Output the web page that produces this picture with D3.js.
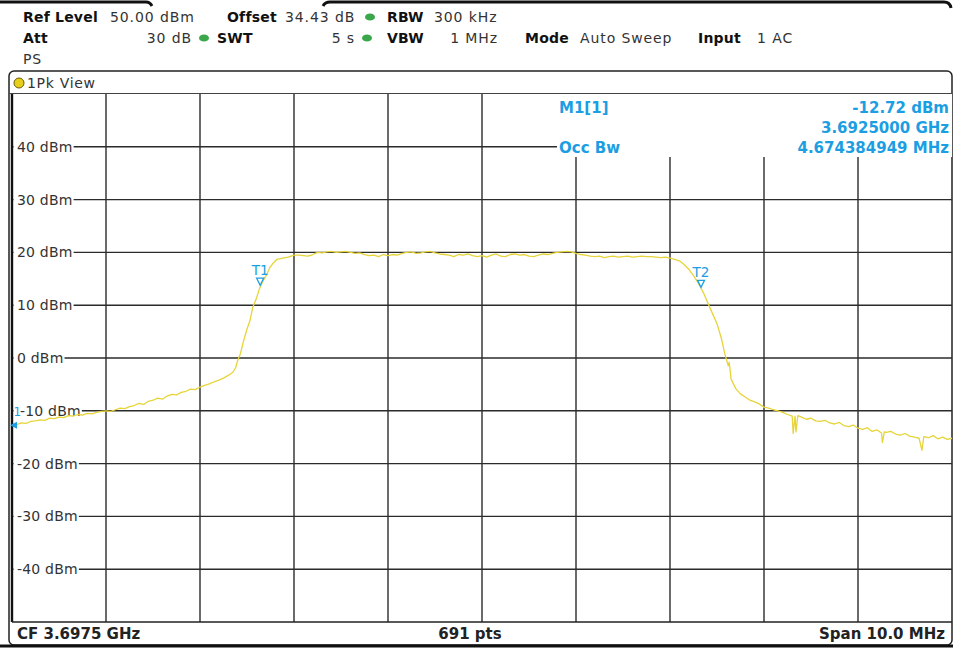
<!DOCTYPE html>
<html>
<head>
<meta charset="utf-8">
<script src="https://cdn.jsdelivr.net/npm/d3@7"></script>
<style>
  html, body { margin: 0; padding: 0; background: #fff; }
  svg { display: block; font-family: "DejaVu Sans", Verdana, sans-serif; }
</style>
</head>
<body>
<svg id="chart" width="953" height="649"></svg>
<script>
// ======================================================================
// DATA
// ======================================================================
const centerGHz = 3.6975;
const spanMHz = 10.0;
const sweepPoints = 691;
const levelTicks = [40, 30, 20, 10, 0, -10, -20, -30, -40];
const levelRange = [-50, 50];

// [offset from start frequency in MHz, level in dBm]
const trace = [
  [0.00, -12.7], [0.05, -12.6], [0.10, -12.3], [0.15, -12.4], [0.20, -12.0],
  [0.25, -11.9], [0.30, -11.7], [0.35, -11.8], [0.40, -11.4], [0.45, -11.5],
  [0.50, -11.2], [0.55, -11.3], [0.60, -10.9], [0.65, -11.0], [0.70, -10.7],
  [0.75, -10.8], [0.80, -10.5], [0.85, -10.6], [0.90, -10.3], [0.95, -10.1],
  [1.00, -10.0], [1.05, -10.1], [1.10, -9.8], [1.15, -9.5], [1.20, -9.6],
  [1.25, -9.2], [1.30, -9.0], [1.35, -8.6], [1.40, -8.8], [1.45, -8.2],
  [1.50, -8.0], [1.55, -7.6], [1.60, -7.8], [1.65, -7.2], [1.70, -6.9],
  [1.75, -7.0], [1.80, -6.5], [1.85, -6.3], [1.90, -5.9], [1.95, -6.0],
  [2.00, -5.5], [2.05, -5.2], [2.10, -4.9], [2.15, -4.5], [2.20, -4.2],
  [2.25, -3.8], [2.30, -3.3], [2.35, -2.7], [2.38, -1.8], [2.40, -0.5],
  [2.43, 0.8], [2.46, 3.0], [2.50, 5.5], [2.53, 7.0], [2.56, 9.5],
  [2.60, 11.3], [2.63, 13.0], [2.66, 14.2], [2.70, 15.5], [2.74, 17.0],
  [2.78, 18.0], [2.82, 18.7], [2.88, 18.9], [2.94, 19.1], [3.00, 19.5],
  [3.05, 19.5], [3.10, 19.4], [3.15, 19.3], [3.20, 19.6], [3.25, 20.0],
  [3.30, 19.9], [3.35, 20.1], [3.40, 20.2], [3.45, 20.0], [3.50, 20.1],
  [3.55, 20.2], [3.60, 20.0], [3.65, 19.8], [3.70, 19.9], [3.75, 19.6],
  [3.80, 19.4], [3.85, 19.5], [3.90, 19.2], [3.95, 19.6], [4.00, 19.4],
  [4.05, 19.6], [4.10, 19.5], [4.15, 19.8], [4.20, 20.0], [4.25, 20.1],
  [4.30, 19.8], [4.35, 19.9], [4.40, 20.1], [4.45, 20.2], [4.50, 19.9],
  [4.55, 19.7], [4.60, 19.6], [4.65, 19.5], [4.70, 19.2], [4.75, 19.6],
  [4.80, 19.5], [4.85, 19.7], [4.90, 19.4], [4.95, 19.2], [5.00, 19.4],
  [5.05, 19.1], [5.10, 19.5], [5.15, 19.7], [5.20, 19.3], [5.25, 19.2],
  [5.30, 19.6], [5.35, 19.7], [5.40, 19.5], [5.45, 19.6], [5.50, 19.3],
  [5.55, 19.2], [5.60, 19.5], [5.65, 19.7], [5.70, 19.6], [5.75, 19.8],
  [5.80, 20.0], [5.85, 20.1], [5.90, 20.2], [5.95, 20.1], [6.00, 19.8],
  [6.05, 19.6], [6.10, 19.5], [6.15, 19.3], [6.20, 19.2], [6.25, 19.3],
  [6.30, 19.0], [6.35, 19.2], [6.40, 19.3], [6.45, 19.1], [6.50, 19.2],
  [6.55, 19.3], [6.60, 19.1], [6.65, 19.2], [6.70, 19.3], [6.75, 19.2],
  [6.80, 19.2], [6.85, 19.1], [6.90, 19.0], [6.95, 19.1], [7.00, 18.9],
  [7.05, 18.7], [7.10, 18.4], [7.15, 17.7], [7.20, 16.8], [7.25, 15.6],
  [7.30, 14.2], [7.33, 13.2], [7.36, 12.2], [7.40, 10.5], [7.45, 8.5],
  [7.50, 6.5], [7.55, 3.5], [7.58, 1.0], [7.62, -1.5], [7.63, -0.8],
  [7.65, -4.0], [7.70, -5.8], [7.75, -6.8], [7.80, -7.4], [7.85, -8.0],
  [7.90, -8.3], [7.95, -8.7], [8.00, -9.3], [8.05, -9.5], [8.10, -9.8],
  [8.15, -10.0], [8.20, -10.3], [8.25, -10.7], [8.30, -11.0], [8.31, -14.3],
  [8.33, -11.0], [8.34, -14.0], [8.36, -10.9], [8.40, -11.2], [8.45, -11.6],
  [8.50, -11.4], [8.55, -11.9], [8.60, -12.0], [8.65, -11.8], [8.70, -12.3],
  [8.75, -12.5], [8.80, -12.2], [8.85, -12.8], [8.90, -13.0], [8.95, -12.7],
  [9.00, -13.3], [9.05, -13.5], [9.10, -13.2], [9.15, -13.9], [9.20, -13.6],
  [9.25, -14.2], [9.26, -16.0], [9.28, -14.0], [9.30, -14.1], [9.35, -13.9],
  [9.40, -14.4], [9.45, -14.6], [9.50, -14.3], [9.55, -14.8], [9.60, -15.0],
  [9.65, -15.2], [9.68, -17.5], [9.70, -14.9], [9.75, -15.1], [9.80, -14.7],
  [9.85, -15.3], [9.90, -15.0], [9.95, -15.4], [10.00, -15.2]
];

// occupied bandwidth markers
const tMarkers = [
  { name: "T1", f: 2.64, level: 13.6 },
  { name: "T2", f: 7.33, level: 13.2 }
];
const m1 = { f: 0, level: -12.72 };

const markerInfo = [
  ["M1[1]", "-12.72 dBm"],
  ["", "3.6925000 GHz"],
  ["Occ Bw", "4.674384949 MHz"]
];

const headerRow1 = [
  { t: "Ref Level", x: 23, bold: true }, { t: "50.00 dBm", x: 110 },
  { t: "Offset", x: 227, bold: true }, { t: "34.43 dB", x: 285 },
  { t: "RBW", x: 387, bold: true }, { t: "300 kHz", x: 434 }
];
const headerRow2 = [
  { t: "Att", x: 23, bold: true }, { t: "30 dB", x: 192, end: true },
  { t: "SWT", x: 217, bold: true }, { t: "5 s", x: 355, end: true },
  { t: "VBW", x: 387, bold: true }, { t: "1 MHz", x: 498, end: true },
  { t: "Mode", x: 525, bold: true }, { t: "Auto Sweep", x: 580 },
  { t: "Input", x: 698, bold: true }, { t: "1 AC", x: 757 }
];
const headerDots = [[370, 17], [204, 38], [367, 38]];

// ======================================================================
// LAYOUT
// ======================================================================
const plot = { left: 12, right: 952, top: 94, bottom: 622 };
const infoBox = { x: 557, y: 94, w: 395, h: 63 };
const blue = "#1c9ee2";
const yellow = "#e6d438";
const gridColor = "#2b2b2b";

const svg = d3.select("#chart");

const x = d3.scaleLinear().domain([0, spanMHz]).range([plot.left, plot.right]);
const y = d3.scaleLinear().domain(levelRange).range([plot.bottom, plot.top]);

// ======================================================================
// HEADER
// ======================================================================
svg.append("path")
  .attr("d", "M0,2 H146 Q150,2 152,6")
  .attr("stroke", "#111").attr("stroke-width", 3).attr("fill", "none");
svg.append("path")
  .attr("d", "M323,6 Q325,2 330,2 H944 Q950,2 951,8")
  .attr("stroke", "#111").attr("stroke-width", 3).attr("fill", "none");

function headerRow(items, baseline) {
  svg.append("g").selectAll("text")
    .data(items)
    .join("text")
    .attr("x", d => d.x)
    .attr("y", baseline)
    .attr("text-anchor", d => d.end ? "end" : "start")
    .attr("font-size", 14)
    .attr("letter-spacing", d => d.bold ? 0.2 : 0.9)
    .attr("font-weight", d => d.bold ? "bold" : "normal")
    .attr("fill", d => d.bold ? "#111" : "#333")
    .text(d => d.t);
}
headerRow(headerRow1, 22);
headerRow(headerRow2, 43);
svg.append("text").attr("x", 23).attr("y", 64)
  .attr("font-size", 14).attr("letter-spacing", 0.9)
  .attr("fill", "#333").text("PS");

svg.append("g").selectAll("ellipse")
  .data(headerDots)
  .join("ellipse")
  .attr("cx", d => d[0]).attr("cy", d => d[1])
  .attr("rx", 5).attr("ry", 3.6)
  .attr("fill", "#3aa84a");

// ======================================================================
// PANEL FRAME + TITLE
// ======================================================================
svg.append("rect")
  .attr("x", 9).attr("y", 71).attr("width", 943).attr("height", 574)
  .attr("rx", 5)
  .attr("fill", "#fff").attr("stroke", "#222").attr("stroke-width", 1.5);
svg.append("line")
  .attr("x1", 9).attr("x2", 952).attr("y1", 93.5).attr("y2", 93.5)
  .attr("stroke", "#444").attr("stroke-width", 1);

svg.append("circle")
  .attr("cx", 19).attr("cy", 83).attr("r", 5)
  .attr("fill", "#e6cf1c").attr("stroke", "#6b5a00").attr("stroke-width", 1);
svg.append("text").attr("x", 27).attr("y", 88)
  .attr("font-size", 14).attr("letter-spacing", 0.7)
  .attr("fill", "#333").text("1Pk View");

// ======================================================================
// GRID
// ======================================================================
const grid = svg.append("g");

grid.selectAll("line.v")
  .data(d3.range(1, spanMHz))
  .join("line")
  .attr("class", "v")
  .attr("x1", d => x(d)).attr("x2", d => x(d))
  .attr("y1", plot.top).attr("y2", plot.bottom)
  .attr("stroke", gridColor).attr("stroke-width", 1.4);

grid.selectAll("line.h")
  .data(levelTicks)
  .join("line")
  .attr("class", "h")
  .attr("x1", plot.left).attr("x2", plot.right)
  .attr("y1", d => y(d)).attr("y2", d => y(d))
  .attr("stroke", gridColor).attr("stroke-width", 1.4);

// clear the marker read-out area
svg.append("rect")
  .attr("x", infoBox.x).attr("y", infoBox.y)
  .attr("width", infoBox.w).attr("height", infoBox.h)
  .attr("fill", "#fff");

// level labels sit on white and cut the grid lines
const labels = svg.append("g");
levelTicks.forEach(v => {
  const t = labels.append("text")
    .attr("x", v === -10 ? 20 : 17).attr("y", y(v) + 5)
    .attr("font-size", 14).attr("letter-spacing", 0.2)
    .attr("fill", "#333")
    .text(`${v} dBm`);
  const b = t.node().getBBox();
  labels.insert("rect", "text")
    .attr("x", plot.left + 1.5).attr("y", y(v) - 8)
    .attr("width", b.x + b.width + 1 - plot.left - 1.5).attr("height", 16)
    .attr("fill", "#fff");
});

// plot border
svg.append("line")
  .attr("x1", plot.left).attr("x2", plot.left)
  .attr("y1", plot.top).attr("y2", plot.bottom)
  .attr("stroke", "#111").attr("stroke-width", 2.4);
svg.append("line")
  .attr("x1", plot.left).attr("x2", plot.right)
  .attr("y1", plot.bottom).attr("y2", plot.bottom)
  .attr("stroke", "#222").attr("stroke-width", 1.4);

// ======================================================================
// TRACE
// ======================================================================
const line = d3.line()
  .x(d => x(d[0]))
  .y(d => y(d[1]));

svg.append("path")
  .datum(trace)
  .attr("d", line)
  .attr("fill", "none")
  .attr("stroke", yellow)
  .attr("stroke-width", 1.3)
  .attr("stroke-linejoin", "round");

// ======================================================================
// MARKERS
// ======================================================================
const tm = svg.append("g").selectAll("g")
  .data(tMarkers)
  .join("g")
  .attr("transform", d => `translate(${x(d.f)},${y(d.level)})`);

tm.append("path")
  .attr("d", "M-3.5,-8 L3.5,-8 L0,-1 Z")
  .attr("fill", "#fff").attr("stroke", blue).attr("stroke-width", 1.3);
tm.append("text")
  .attr("x", 0).attr("y", -11)
  .attr("text-anchor", "middle")
  .attr("font-size", 13.5).attr("fill", blue)
  .text(d => d.name);

svg.append("path")
  .attr("d", `M${x(m1.f) - 2},${y(m1.level)} L${x(m1.f) + 5},${y(m1.level) - 3.5} L${x(m1.f) + 5},${y(m1.level) + 3.5} Z`)
  .attr("fill", blue);
svg.append("text")
  .attr("x", x(m1.f) + 1.5).attr("y", y(-10) + 5)
  .attr("font-size", 12).attr("fill", blue).text("1");

// read-out
const info = svg.append("g")
  .attr("font-size", 15).attr("font-weight", "bold").attr("fill", blue);
markerInfo.forEach((row, i) => {
  const base = 113 + i * 20;
  info.append("text").attr("x", 559).attr("y", base).text(row[0]);
  info.append("text").attr("x", 949).attr("y", base)
    .attr("text-anchor", "end").text(row[1]);
});

// ======================================================================
// FOOTER
// ======================================================================
const foot = svg.append("g")
  .attr("font-size", 15).attr("font-weight", "bold").attr("fill", "#222");
foot.append("text").attr("x", 17).attr("y", 639)
  .text(`CF ${centerGHz.toFixed(4)} GHz`);
foot.append("text").attr("x", 470).attr("y", 639)
  .attr("text-anchor", "middle").text(`${sweepPoints} pts`);
foot.append("text").attr("x", 945).attr("y", 639)
  .attr("text-anchor", "end").text(`Span ${spanMHz.toFixed(1)} MHz`);

svg.append("line")
  .attr("x1", 0).attr("x2", 953).attr("y1", 646).attr("y2", 646)
  .attr("stroke", "#111").attr("stroke-width", 3);
</script>
</body>
</html>
